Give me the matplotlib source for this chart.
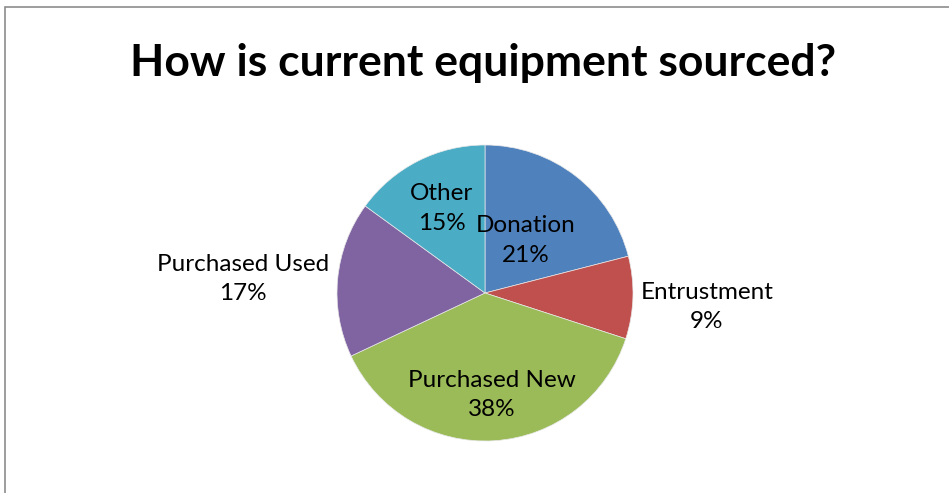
import numpy as np
import matplotlib
matplotlib.use('Agg')
from matplotlib import pyplot as plt
from matplotlib.patches import Rectangle

categories = ['Donation', 'Entrustment', 'Purchased New', 'Purchased Used', 'Other']
shares = [21, 9, 38, 17, 15]
colors = ['#4F81BD', '#C0504D', '#9BBB59', '#8064A2', '#4BACC6']
label_dist = [0.45, 1.5, 0.69, 1.64, 0.64]
label_nudge = [0, -7, 0, -9, 0]  # pixels, to sit like the original labels

W, H = 949, 493
fig = plt.figure(figsize=(W / 100, H / 100), dpi=100)
plt.rcParams['font.family'] = ['Lato', 'DejaVu Sans']

# axes in pixel units, y up
ax = fig.add_axes([0, 0, 1, 1])
cx, cy, r = 485, H - 293, 148
wedges, _ = ax.pie(shares, colors=colors, startangle=90, counterclock=False,
                   center=(cx, cy), radius=r, frame=True,
                   wedgeprops=dict(linewidth=0.5, edgecolor='#e8e8e8'))
ax.set_xlim(0, W)
ax.set_ylim(0, H)
ax.set_aspect('equal')
ax.axis('off')

for w, name, val, d, dy in zip(wedges, categories, shares, label_dist, label_nudge):
    ang = np.deg2rad((w.theta1 + w.theta2) / 2)
    x = cx + d * r * np.cos(ang)
    y = cy + d * r * np.sin(ang) + dy
    ax.text(x, y, f'{name}\n{val}%', ha='center', va='center', fontsize=17.5,
            linespacing=1.5, color='black')

ax.text(483, H - 63, 'How is current equipment sourced?', ha='center', va='center',
        fontsize=32, fontweight='bold', color='black')

fig.patches.append(Rectangle((5 / W, -0.1), 1.2, (H - 7) / H + 0.1,
                             transform=fig.transFigure, fill=False,
                             edgecolor='#8c8c8c', linewidth=1.2))

fig.savefig('out.png', dpi=100)
